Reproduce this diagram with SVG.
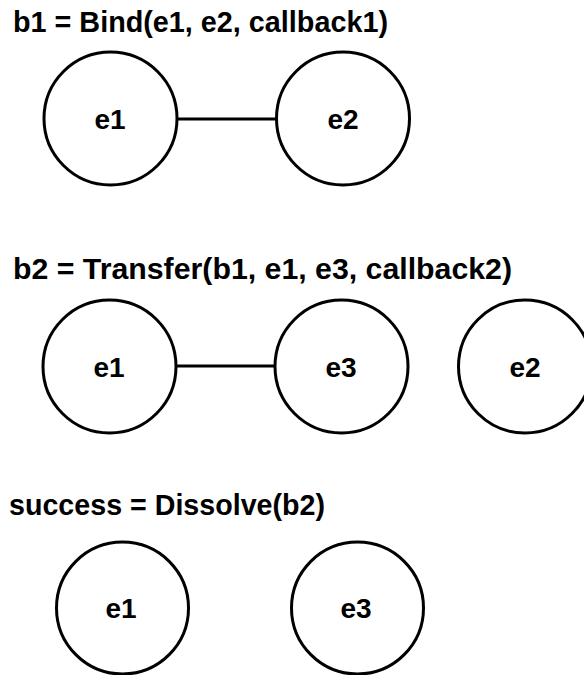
<svg xmlns="http://www.w3.org/2000/svg" width="584" height="675" viewBox="0 0 584 675">
<style>
.t{font-family:"Liberation Sans",Arial,sans-serif;font-weight:bold;font-size:29px;fill:#000}
.n{font-family:"Liberation Sans",Arial,sans-serif;font-weight:bold;font-size:28px;fill:#000;text-anchor:middle}
.c{fill:#fff;stroke:#000;stroke-width:3}
.e{stroke:#000;stroke-width:3;fill:none}
</style>
<rect width="584" height="675" fill="#fff"/>
<text class="t" x="13" y="32" textLength="375" lengthAdjust="spacingAndGlyphs">b1 = Bind(e1, e2, callback1)</text>
<text class="t" x="13" y="279" textLength="499" lengthAdjust="spacingAndGlyphs">b2 = Transfer(b1, e1, e3, callback2)</text>
<text class="t" x="9" y="515" textLength="316" lengthAdjust="spacingAndGlyphs">success = Dissolve(b2)</text>
<g id="connectors">
<line class="e" x1="177" y1="119" x2="276" y2="119"/>
<line class="e" x1="176" y1="366" x2="275" y2="366"/>
</g>
<g id="r1-e1"><circle class="c" cx="110.5" cy="118.5" r="66.5"/><text class="n" x="110" y="128.5">e1</text></g>
<g id="r1-e2"><circle class="c" cx="343" cy="118.5" r="66.5"/><text class="n" x="343" y="128.5">e2</text></g>
<g id="r2-e1"><circle class="c" cx="109.5" cy="366.5" r="66.5"/><text class="n" x="109" y="376.5">e1</text></g>
<g id="r2-e3"><circle class="c" cx="341.5" cy="366.5" r="66.5"/><text class="n" x="341" y="376.5">e3</text></g>
<g id="r2-e2"><circle class="c" cx="525" cy="366.5" r="66.5"/><text class="n" x="525" y="376.5">e2</text></g>
<g id="r3-e1"><circle class="c" cx="122.5" cy="608" r="66"/><text class="n" x="121" y="618">e1</text></g>
<g id="r3-e3"><circle class="c" cx="357.5" cy="608" r="66"/><text class="n" x="356" y="618">e3</text></g>
</svg>
